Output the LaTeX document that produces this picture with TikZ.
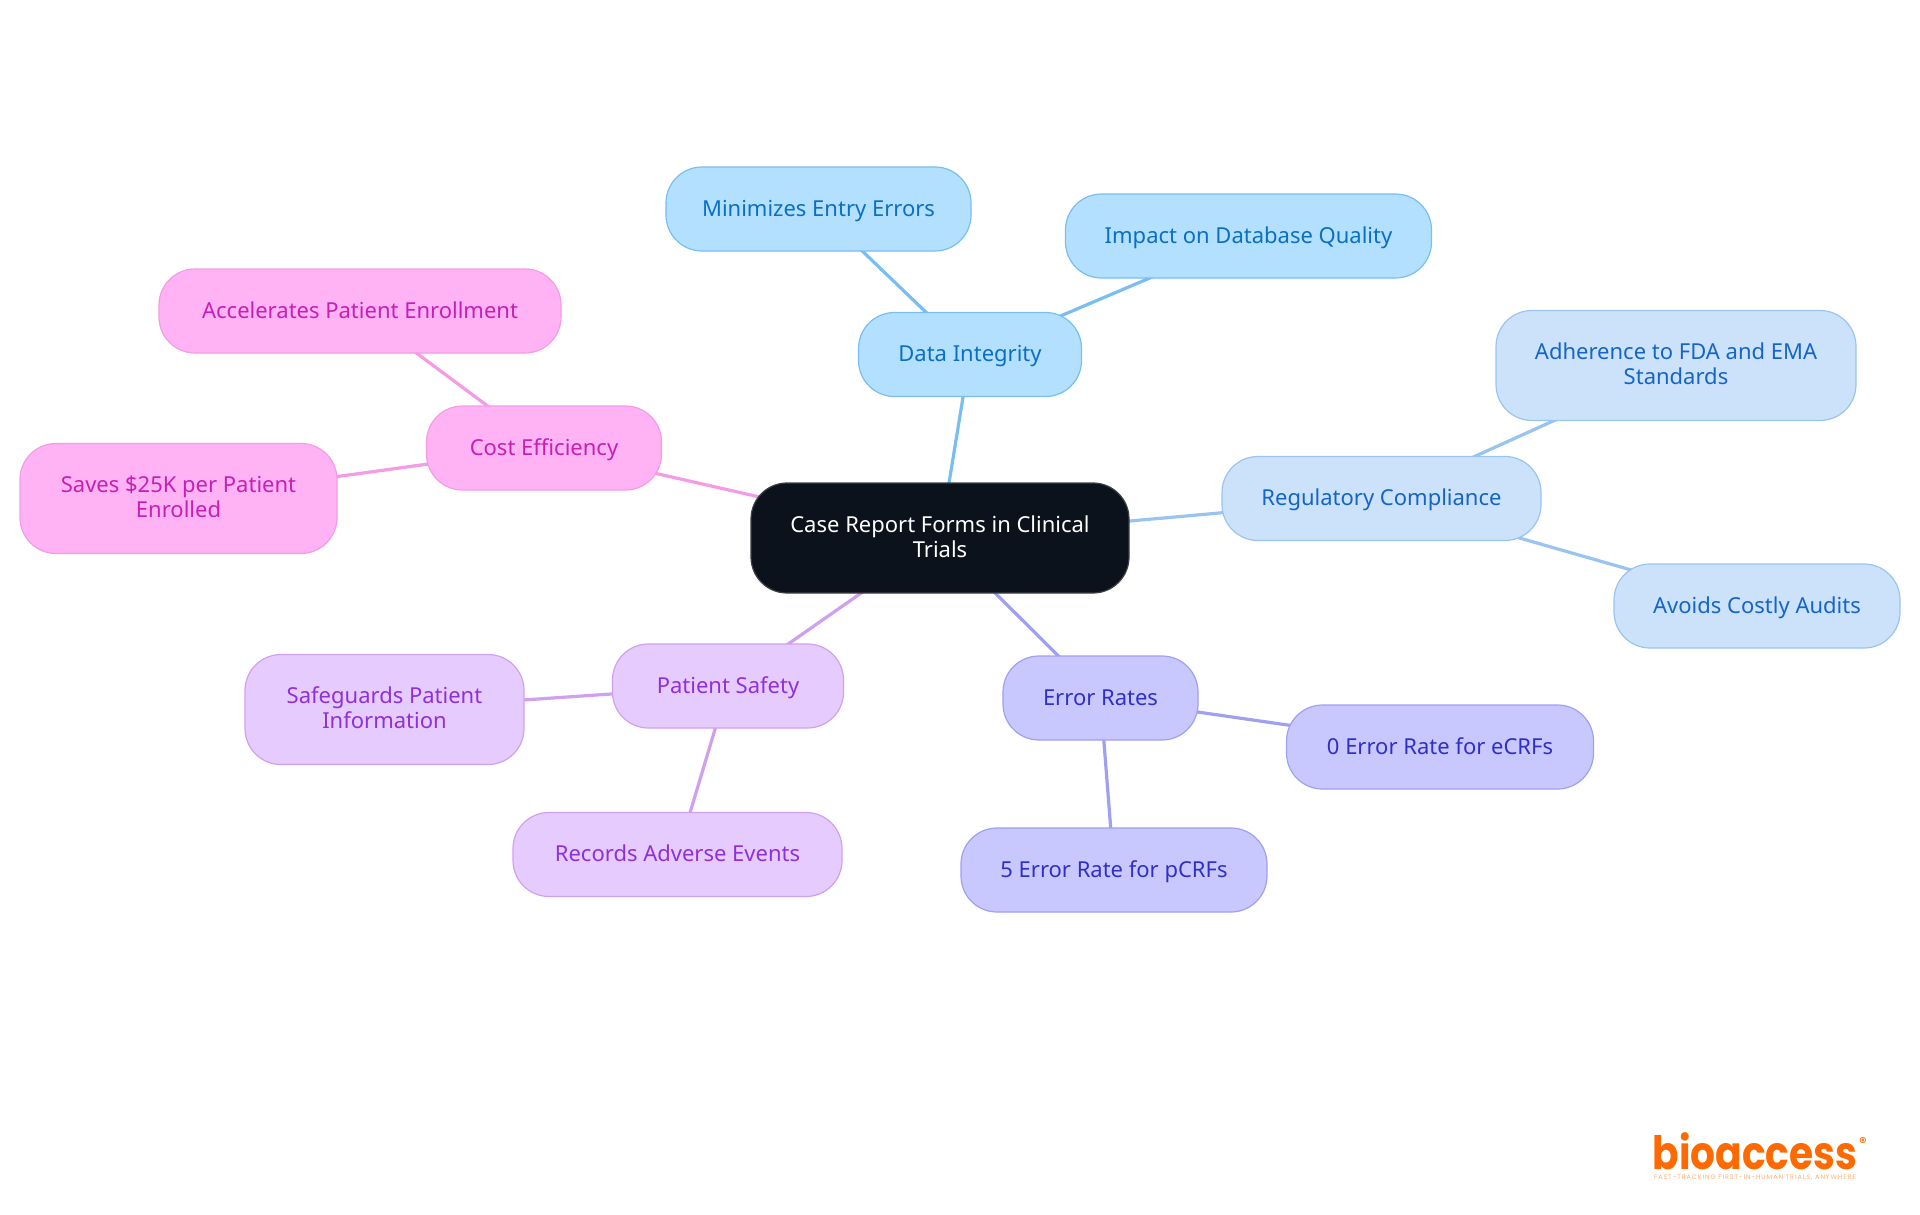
\documentclass[tikz,border=0pt]{standalone}
\usepackage{fontspec}
\setmainfont{Noto Sans}
\newfontfamily\logofont{Poppins}
\newfontfamily\tagfont[LetterSpace=14]{Poppins}
\usetikzlibrary{backgrounds}
\definecolor{rootfill}{HTML}{0C121B}
\definecolor{rootline}{HTML}{3C4046}
\definecolor{datafill}{HTML}{B3E0FF}
\definecolor{dataline}{HTML}{78BEF2}
\definecolor{datatext}{HTML}{0B6FC4}
\definecolor{regfill}{HTML}{CCE2FB}
\definecolor{regline}{HTML}{99C4F0}
\definecolor{regtext}{HTML}{1565C8}
\definecolor{errfill}{HTML}{C8C8FF}
\definecolor{errline}{HTML}{A0A0F0}
\definecolor{errtext}{HTML}{3030C8}
\definecolor{safefill}{HTML}{E6CBFF}
\definecolor{safeline}{HTML}{D0A0F0}
\definecolor{safetext}{HTML}{8F30DB}
\definecolor{costfill}{HTML}{FFB3F5}
\definecolor{costline}{HTML}{F59BE6}
\definecolor{costtext}{HTML}{C71FB5}
\definecolor{logoorange}{HTML}{FF6A00}
\begin{document}
\begin{tikzpicture}[
  x=1pt,y=-1pt,
  every node/.style = {align=center, inner sep=0pt, outer sep=0pt,
    font=\fontsize{22}{25}\selectfont},
  mapbox/.style = {draw, rounded corners=36pt, line width=1.2pt},
  oneline/.style = {minimum height=84pt, text height=17.5pt, text depth=3.5pt},
  twoline/.style = {minimum height=110pt, text depth=3pt},
  rootbox/.style = {mapbox, fill=rootfill, draw=rootline, text=white},
  databox/.style = {mapbox, fill=datafill, draw=dataline, text=datatext},
  regbox/.style = {mapbox, fill=regfill, draw=regline, text=regtext},
  errbox/.style = {mapbox, fill=errfill, draw=errline, text=errtext},
  safebox/.style = {mapbox, fill=safefill, draw=safeline, text=safetext},
  costbox/.style = {mapbox, fill=costfill, draw=costline, text=costtext},
  branch/.style = {line width=3.2pt}]
  \useasboundingbox (0,0) rectangle (1920,1215);
  \node[rootbox, twoline, minimum width=378pt] (root) at (940,538) {Case Report Forms in Clinical\\Trials};

  \node[databox, oneline, minimum width=223pt] (integrity) at (970,354.5) {Data Integrity};
  \node[databox, oneline, minimum width=305pt] (entry) at (818.5,209) {Minimizes Entry Errors};
  \node[databox, oneline, minimum width=366pt] (quality) at (1248.5,236) {Impact on Database Quality};

  \node[regbox, oneline, minimum width=319pt] (compliance) at (1381.5,498.5) {Regulatory Compliance};
  \node[regbox, twoline, minimum width=360pt] (standards) at (1676,365.5) {Adherence to FDA and EMA\\Standards};
  \node[regbox, oneline, minimum width=286pt] (audits) at (1757,606) {Avoids Costly Audits};

  \node[errbox, oneline, minimum width=195pt] (errors) at (1100.5,698) {Error Rates};
  \node[errbox, oneline, minimum width=307pt] (ecrf) at (1440,747) {0 Error Rate for eCRFs};
  \node[errbox, oneline, minimum width=306pt] (pcrf) at (1114,870) {5 Error Rate for pCRFs};

  \node[safebox, oneline, minimum width=231pt] (safety) at (728,686) {Patient Safety};
  \node[safebox, twoline, minimum width=279pt] (information) at (384.5,709.5) {Safeguards Patient\\Information};
  \node[safebox, oneline, minimum width=329pt] (adverse) at (677.5,854.5) {Records Adverse Events};

  \node[costbox, oneline, minimum width=235pt] (cost) at (544,448) {Cost Efficiency};
  \node[costbox, oneline, minimum width=402pt] (enrollment) at (360,311) {Accelerates Patient Enrollment};
  \node[costbox, twoline, minimum width=317pt] (saves) at (178.5,498.5) {Saves \smash{\$}25K per Patient\\Enrolled};

  \begin{pgfonlayer}{background}
    \draw[branch, dataline] (root.center) -- (integrity.center);
    \draw[branch, dataline] (integrity.center) -- (entry.center);
    \draw[branch, dataline] (integrity.center) -- (quality.center);
    \draw[branch, regline] (root.center) -- (compliance.center);
    \draw[branch, regline] (compliance.center) -- (standards.center);
    \draw[branch, regline] (compliance.center) -- (audits.center);
    \draw[branch, errline] (root.center) -- (errors.center);
    \draw[branch, errline] (errors.center) -- (ecrf.center);
    \draw[branch, errline] (errors.center) -- (pcrf.center);
    \draw[branch, safeline] (root.center) -- (safety.center);
    \draw[branch, safeline] (safety.center) -- (information.center);
    \draw[branch, safeline] (safety.center) -- (adverse.center);
    \draw[branch, costline] (root.center) -- (cost.center);
    \draw[branch, costline] (cost.center) -- (enrollment.center);
    \draw[branch, costline] (cost.center) -- (saves.center);
  \end{pgfonlayer}

  \node[text=logoorange, font=\logofont\bfseries\fontsize{46}{46}\selectfont] (logo) at (1755,1151) {\scalebox{0.85}[1]{bioaccess}};
  \node[text=logoorange, font=\logofont\bfseries\fontsize{14}{14}\selectfont] (mark) at (1863,1142) {®};
  \node[text=logoorange!55, font=\tagfont\fontsize{6.5}{7}\selectfont] (tagline) at (1755,1178) {FAST-TRACKING FIRST-IN-HUMAN TRIALS, ANYWHERE};
\end{tikzpicture}
\end{document}
